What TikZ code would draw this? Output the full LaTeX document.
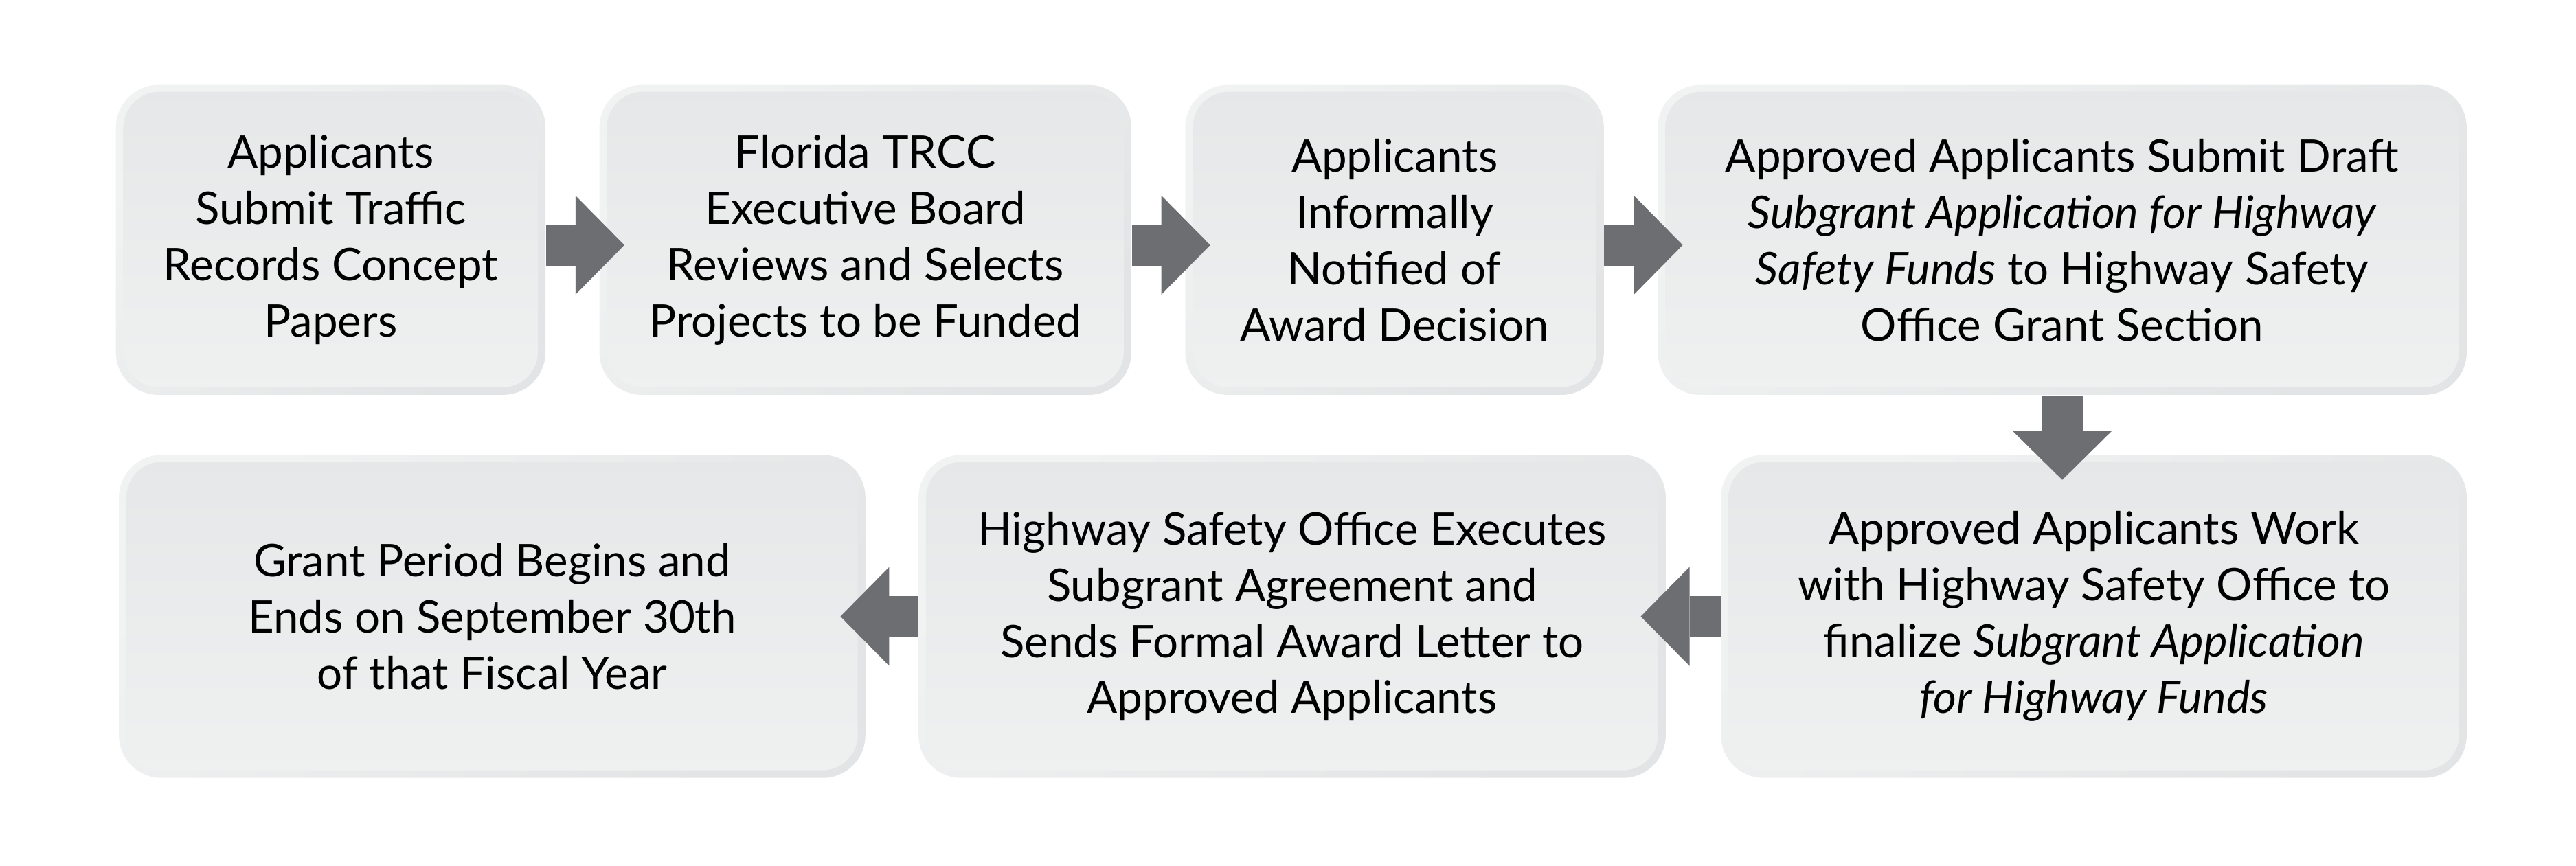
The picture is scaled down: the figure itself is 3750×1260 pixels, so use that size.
\documentclass[tikz,border=0pt]{standalone}
\usepackage{fontspec}
\setmainfont{Lato}
\usepackage{tikz}
\usetikzlibrary{arrows.meta}
\usetikzlibrary{positioning}
\definecolor{rimlight}{HTML}{F1F2F2}
\definecolor{rimdark}{HTML}{E3E4E5}
\definecolor{facetop}{HTML}{E6E7E8}
\definecolor{facebottom}{HTML}{EFF0F0}
\definecolor{arrowgray}{HTML}{6D6E71}
\tikzstyle{flow}=[line width=0.6cm, arrowgray, -{Triangle[length=0.71cm, width=1.44cm, line width=0pt]}, shorten >=-0.37cm]

\begin{document}
\begin{tikzpicture}
      [x=0.01cm, y=-0.01cm, node distance=0.77cm,
      stage/.style={rectangle, rounded corners=0.62cm, inner sep=0pt, minimum height=4.51cm,
        align=center, font=\fontsize{18.6pt}{23.3pt}\selectfont,
        left color=rimlight, right color=rimdark, shading angle=45,
        path picture={\shade[top color=facetop, bottom color=facebottom, rounded corners=0.52cm]
          ([xshift=0.11cm, yshift=-0.10cm]path picture bounding box.north west) rectangle
          ([xshift=-0.11cm, yshift=0.11cm]path picture bounding box.south east);}},
      tall/.style={minimum height=4.70cm}]
      \useasboundingbox (0,0) rectangle (3750,1260);
      % Place nodes
      \node [stage, minimum width=6.25cm, anchor=north west] (submit) at (168,123)
        {Applicants\\Submit Traffic\\Records Concept\\Papers};
      \node [stage, minimum width=7.74cm, right=of submit] (review)
        {Florida TRCC\\Executive Board\\Reviews and Selects\\Projects to be Funded};
      \node [stage, minimum width=6.09cm, right=of review] (notify)
        {Applicants\\Informally\\Notified of\\Award Decision};
      \node [stage, minimum width=11.77cm, right=of notify] (draft)
        {Approved Applicants Submit Draft\\\textit{Subgrant Application for Highway}\\\textit{Safety Funds} to Highway Safety\\Office Grant Section};
      \node [stage, tall, minimum width=10.85cm, below=0.86cm of draft.south east, anchor=north east] (finalize)
        {Approved Applicants Work\\with Highway Safety Office to\\finalize \textit{Subgrant Application}\\\textit{for Highway Funds}};
      \node [stage, tall, minimum width=10.87cm, left=0.79cm of finalize] (execute)
        {Highway Safety Office Executes\\Subgrant Agreement and\\Sends Formal Award Letter to\\Approved Applicants};
      \node [stage, tall, minimum width=10.86cm, left=0.76cm of execute] (period)
        {Grant Period Begins and\\Ends on September 30th\\of that Fiscal Year};
      % Draw edges
      \draw [flow] ([yshift=-0.075cm]submit.east) -- ([yshift=-0.075cm]review.west);
      \draw [flow] ([yshift=-0.075cm]review.east) -- ([yshift=-0.075cm]notify.west);
      \draw [flow] ([yshift=-0.075cm]notify.east) -- ([yshift=-0.075cm]draft.west);
      \draw [flow] (draft.south) -- (draft.south |- finalize.north);
      \draw [flow] (finalize.west) -- (execute.east);
      \draw [flow] (execute.west) -- (period.east);
    \end{tikzpicture}
\end{document}
